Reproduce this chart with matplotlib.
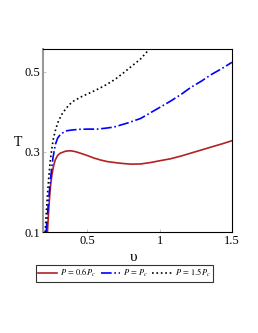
import matplotlib
matplotlib.use("Agg")
import matplotlib.pyplot as plt

plt.rcParams['font.family'] = ['Liberation Serif', 'DejaVu Serif']
plt.rcParams['mathtext.fontset'] = 'stix'

# values
v_low = [0.224, 0.231, 0.238, 0.246, 0.255, 0.266, 0.278, 0.294, 0.3125, 0.35,
         0.382, 0.415, 0.451, 0.50, 0.544, 0.59, 0.637, 0.70, 0.752, 0.80,
         0.868, 0.9375, 1.0, 1.076, 1.15, 1.215, 1.29, 1.354, 1.43, 1.5]
T_low = [0.100, 0.145, 0.184, 0.218, 0.243, 0.265, 0.280, 0.291, 0.297, 0.302,
         0.303, 0.301, 0.297, 0.291, 0.285, 0.280, 0.276, 0.273, 0.271, 0.2696,
         0.270, 0.2736, 0.278, 0.283, 0.290, 0.297, 0.305, 0.312, 0.320, 0.328]

v_crit = [0.215, 0.223, 0.231, 0.240, 0.248, 0.262, 0.278, 0.295, 0.3125, 0.335,
          0.359, 0.40, 0.451, 0.51, 0.567, 0.62, 0.683, 0.776, 0.80, 0.868,
          0.9375, 1.0, 1.076, 1.15, 1.215, 1.29, 1.354, 1.43, 1.5]
T_crit = [0.100, 0.138, 0.1755, 0.212, 0.243, 0.285, 0.318, 0.335, 0.343, 0.349,
          0.353, 0.355, 0.3566, 0.357, 0.357, 0.359, 0.362, 0.372, 0.375, 0.3835,
          0.398, 0.411, 0.427, 0.444, 0.461, 0.477, 0.4925, 0.508, 0.5237]

v_high = [0.208, 0.216, 0.224, 0.233, 0.243, 0.254, 0.266, 0.282, 0.30, 0.322,
          0.347, 0.375, 0.405, 0.46, 0.521, 0.58, 0.637, 0.695, 0.752, 0.81,
          0.868, 0.915, 0.92]
T_high = [0.100, 0.148, 0.192, 0.236, 0.276, 0.308, 0.335, 0.358, 0.377, 0.393,
          0.406, 0.418, 0.427, 0.438, 0.448, 0.458, 0.469, 0.482, 0.498, 0.515,
          0.532, 0.551, 0.553]

labels = [r'$P\,=\,0.6\,P_c$', r'$P\,=\,P_c$', r'$P\,=\,1.5\,P_c$']

fig = plt.figure(figsize=(2.58, 3.33), dpi=100)
ax = fig.add_axes([0.166, 0.303, 0.733, 0.550])

l1, = ax.plot(v_low, T_low, '-', color='#b22222', lw=1.2)
l2, = ax.plot(v_crit, T_crit, '-.', color='#0000ff', lw=1.2)
l3, = ax.plot(v_high, T_high, ':', color='black', lw=1.2)

ax.set_xlim(0.192, 1.5)
ax.set_ylim(0.1, 0.557)
ax.set_xticks([0.5, 1, 1.5])
ax.set_xticklabels(['0.5', '1', '1.5'])
ax.set_yticks([0.1, 0.3, 0.5])
ax.set_yticklabels(['0.1', '0.3', '0.5'])
ax.tick_params(direction='in', length=2, width=0.5, color='#aaaaaa',
               labelsize=9, pad=2)

ax.spines['left'].set_color('#999999')
ax.spines['left'].set_linewidth(1.5)
for s in ['top', 'right', 'bottom']:
    ax.spines[s].set_linewidth(0.8)

fig.text(0.07, 0.573, 'T', fontsize=10, ha='center', va='center')
fig.text(0.516, 0.228, 'υ', fontsize=11, ha='center', va='center')

leg = fig.legend([l1, l2, l3], labels, loc='center', bbox_to_anchor=(0.483, 0.179),
                 ncol=3, fontsize=6, frameon=True, fancybox=False,
                 handlelength=2.3, handletextpad=0.4, columnspacing=0.5,
                 borderpad=0.25, borderaxespad=0)
leg.get_frame().set_edgecolor('black')
leg.get_frame().set_linewidth(0.8)

fig.savefig('out.png', dpi=100)
